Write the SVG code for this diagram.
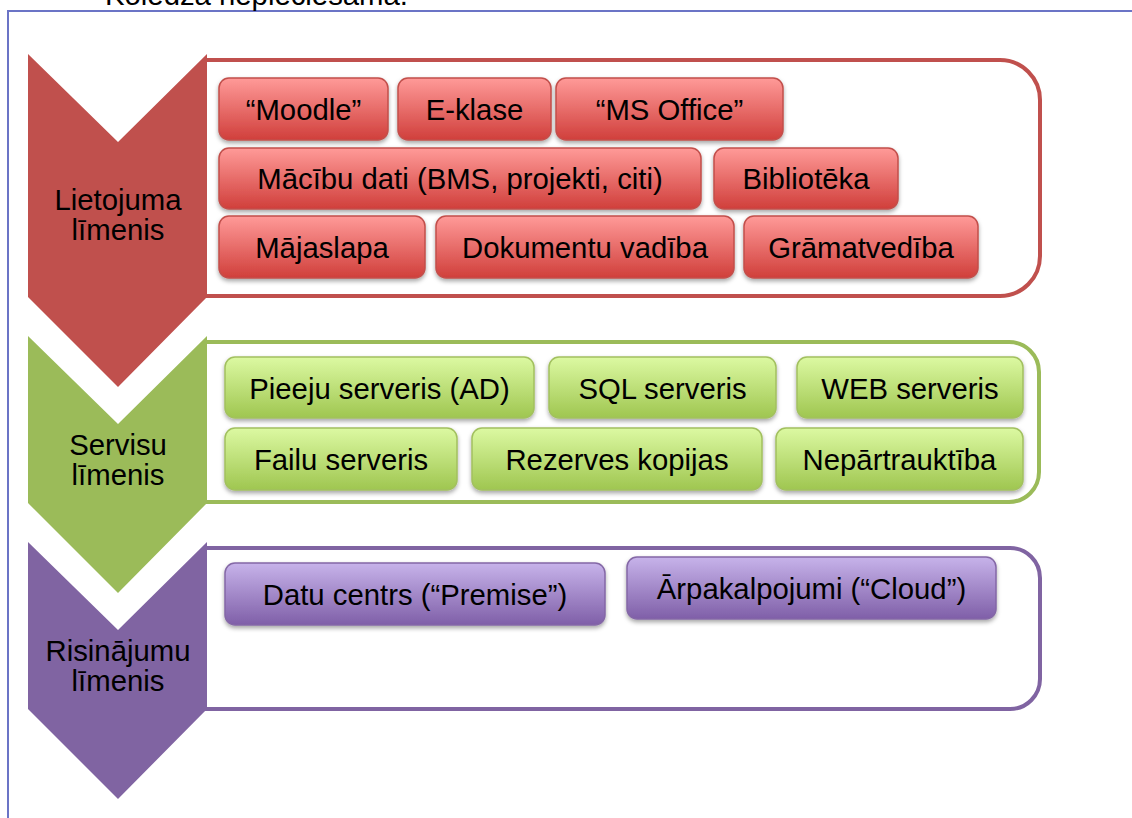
<svg xmlns="http://www.w3.org/2000/svg" width="1132" height="818" viewBox="0 0 1132 818">
<defs>
<linearGradient id="gr" x1="0" y1="0" x2="0" y2="1"><stop offset="0" stop-color="#ff9a98"/><stop offset="1" stop-color="#d03f3b"/></linearGradient>
<linearGradient id="gg" x1="0" y1="0" x2="0" y2="1"><stop offset="0" stop-color="#dcf9a2"/><stop offset="1" stop-color="#9fc650"/></linearGradient>
<linearGradient id="gp" x1="0" y1="0" x2="0" y2="1"><stop offset="0" stop-color="#c7b3ea"/><stop offset="1" stop-color="#7f5fa8"/></linearGradient>
<filter id="sh" x="-10%" y="-20%" width="120%" height="150%"><feDropShadow dx="0" dy="2.5" stdDeviation="2" flood-color="#000" flood-opacity="0.35"/></filter>
</defs>
<style>
text{font-family:"Liberation Sans",Arial,sans-serif;font-size:29.3px;fill:#000;text-anchor:middle}
.r{fill:url(#gr);stroke:#c24f4b;stroke-width:1.5;filter:url(#sh)}
.g{fill:url(#gg);stroke:#a2c05f;stroke-width:1.5;filter:url(#sh)}
.p{fill:url(#gp);stroke:#8467a6;stroke-width:1.5;filter:url(#sh)}
.panel{fill:#fff;stroke-width:4}
</style>
<rect width="1132" height="818" fill="#fff"/>
<path d="M8,830 V11 H1140" fill="none" stroke="#6b74c6" stroke-width="2"/>
<text x="105" y="5" style="text-anchor:start">Koledža nepieciešama.</text>

<g id="level-lietojuma">
<path class="panel" stroke="#c0504d" d="M205,60 H1000 A40,40 0 0 1 1040,100 V256 A40,40 0 0 1 1000,296 H205 Z"/>
<path fill="#c0504d" d="M28,54 L118,142 L207,54 V297 L118,387 L28,297 Z"/>
<text x="118" y="210">Lietojuma</text>
<text x="118" y="240">līmenis</text>
</g>
<g id="level-servisu">
<path class="panel" stroke="#9bbb59" d="M205,342 H1009 A30,30 0 0 1 1039,372 V472 A30,30 0 0 1 1009,502 H205 Z"/>
<path fill="#9bbb59" d="M28,336 L118,424 L207,336 V503 L118,593 L28,503 Z"/>
<text x="118" y="455">Servisu</text>
<text x="118" y="485">līmenis</text>
</g>
<g id="level-risinajumu">
<path class="panel" stroke="#8064a2" d="M205,548 H1010 A30,30 0 0 1 1040,578 V679 A30,30 0 0 1 1010,709 H205 Z"/>
<path fill="#8064a2" d="M28,542 L118,630 L207,542 V709 L118,799 L28,709 Z"/>
<text x="118" y="661">Risinājumu</text>
<text x="118" y="691">līmenis</text>
</g>

<g id="n-moodle"><rect class="r" x="219" y="78" width="169" height="62" rx="10"/><text x="303.5" y="119.5">“Moodle”</text></g>
<g id="n-eklase"><rect class="r" x="398" y="78" width="153" height="62" rx="10"/><text x="474.5" y="119.5">E-klase</text></g>
<g id="n-msoffice"><rect class="r" x="556" y="78" width="227" height="62" rx="10"/><text x="669.5" y="119.5">“MS Office”</text></g>
<g id="n-macibu"><rect class="r" x="219" y="148" width="482" height="61" rx="10"/><text x="460" y="188.5">Mācību dati (BMS, projekti, citi)</text></g>
<g id="n-biblioteka"><rect class="r" x="714" y="148" width="184" height="61" rx="10"/><text x="806" y="188.5">Bibliotēka</text></g>
<g id="n-majaslapa"><rect class="r" x="219" y="216" width="206" height="62" rx="10"/><text x="322" y="257.5">Mājaslapa</text></g>
<g id="n-dokumentu"><rect class="r" x="436" y="216" width="298" height="62" rx="10"/><text x="585" y="257.5">Dokumentu vadība</text></g>
<g id="n-gramatvediba"><rect class="r" x="744" y="216" width="234" height="62" rx="10"/><text x="861" y="257.5">Grāmatvedība</text></g>

<g id="n-pieeju"><rect class="g" x="225" y="357" width="309" height="61" rx="10"/><text x="379.5" y="398.5">Pieeju serveris (AD)</text></g>
<g id="n-sql"><rect class="g" x="549" y="357" width="227" height="61" rx="10"/><text x="662.5" y="398.5">SQL serveris</text></g>
<g id="n-web"><rect class="g" x="797" y="357" width="226" height="61" rx="10"/><text x="910" y="398.5">WEB serveris</text></g>
<g id="n-failu"><rect class="g" x="225" y="428" width="232" height="62" rx="10"/><text x="341" y="469.5">Failu serveris</text></g>
<g id="n-rezerves"><rect class="g" x="472" y="428" width="290" height="62" rx="10"/><text x="617" y="469.5">Rezerves kopijas</text></g>
<g id="n-nepartrauktiba"><rect class="g" x="776" y="428" width="247" height="62" rx="10"/><text x="899.5" y="469.5">Nepārtrauktība</text></g>

<g id="n-datu"><rect class="p" x="225" y="563" width="380" height="62" rx="10"/><text x="415" y="605">Datu centrs (“Premise”)</text></g>
<g id="n-arpak"><rect class="p" x="627" y="557" width="369" height="62" rx="10"/><text x="811.5" y="599">Ārpakalpojumi (“Cloud”)</text></g>
</svg>
